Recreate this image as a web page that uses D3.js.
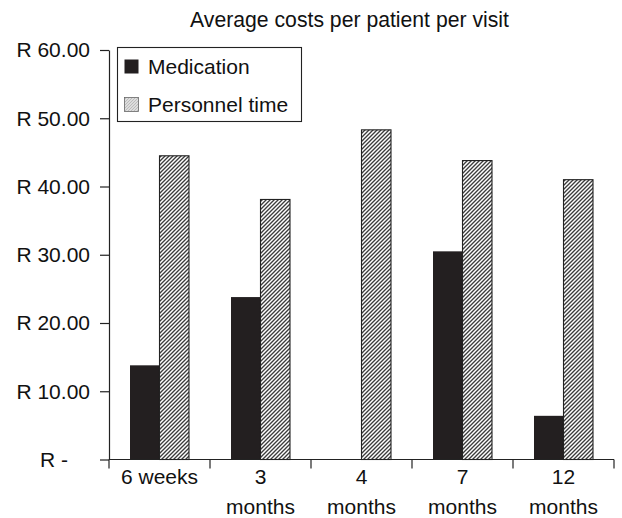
<!DOCTYPE html>
<html>
<head>
<meta charset="utf-8">
<script src="https://cdn.jsdelivr.net/npm/d3@7"></script>
<style>
  html, body { margin: 0; padding: 0; background: #fff; }
  svg { display: block; }
  text { font-family: "Liberation Sans", Arial, Helvetica, sans-serif; fill: #111; }
</style>
</head>
<body>
<svg id="chart" width="622" height="518"></svg>
<script>
// Visit time points and cost per patient (Rand)
const categories = [["6 weeks"], ["3", "months"], ["4", "months"], ["7", "months"], ["12", "months"]];
const seriesNames = ["Medication", "Personnel time"];
const medication = [13.8, 23.8, 0, 30.5, 6.4];
const personnel = [44.5, 38.1, 48.3, 43.8, 41.0];
const yTicks = [0, 10, 20, 30, 40, 50, 60];
const title = "Average costs per patient per visit";

const svg = d3.select("#chart");
const margin = { left: 109, right: 8, top: 50, bottom: 58.5 };
const W = 622, H = 518;

const defs = svg.append("defs");
function hatch(id, step, color, sw) {
  const p = defs.append("pattern")
    .attr("id", id)
    .attr("patternUnits", "userSpaceOnUse")
    .attr("width", step).attr("height", step);
  p.append("rect").attr("width", step).attr("height", step).attr("fill", "#fff");
  p.append("path")
    .attr("d", `M${-step/2},${step/2} L${step/2},${-step/2} M0,${step} L${step},0 M${step/2},${step*1.5} L${step*1.5},${step/2}`)
    .attr("stroke", color).attr("stroke-width", sw);
}
hatch("stripes", 4, "#3c3c3c", 1.35);
hatch("stripesSmall", 3, "#777", 1);

const idx = d3.range(categories.length);
const x0 = d3.scaleBand().domain(idx).range([margin.left, W - margin.right]).padding(0);
const x1 = d3.scaleBand().domain(seriesNames).range([0, x0.bandwidth()]).paddingInner(0).paddingOuter(0.712);
const xb = d3.scaleLinear().domain([0, categories.length]).range([margin.left, W - margin.right]);
const y = d3.scaleLinear().domain([0, 60]).range([H - margin.bottom, margin.top]);

// Title
svg.append("text")
  .attr("x", 349.5).attr("y", 26.5)
  .attr("text-anchor", "middle")
  .style("font-size", "21.2px")
  .text(title);

// Bars
const values = { "Medication": medication, "Personnel time": personnel };
const fills = { "Medication": "#231f20", "Personnel time": "url(#stripes)" };
const strokes = { "Medication": "none", "Personnel time": "#222" };

const groups = svg.append("g").selectAll("g")
  .data(idx).join("g")
  .attr("transform", i => `translate(${x0(i)},0)`);

groups.selectAll("rect")
  .data(i => seriesNames.map(s => ({ s, v: values[s][i] })).filter(d => d.v > 0))
  .join("rect")
  .attr("x", d => x1(d.s))
  .attr("width", x1.bandwidth())
  .attr("y", d => y(d.v))
  .attr("height", d => y(0) - y(d.v))
  .attr("fill", d => fills[d.s])
  .attr("stroke", d => strokes[d.s])
  .attr("stroke-width", 1.1);

// Y axis
const yAxis = svg.append("g")
  .attr("transform", `translate(${margin.left},0)`)
  .call(d3.axisLeft(y)
    .tickValues(yTicks)
    .tickSize(9)
    .tickSizeOuter(0)
    .tickPadding(10)
    .tickFormat(d => d === 0 ? "R -" : "R " + d3.format(".2f")(d)));
yAxis.select(".domain").attr("stroke", "#222").attr("stroke-width", 1.2);
yAxis.selectAll(".tick line").attr("stroke", "#222").attr("stroke-width", 1.2);
yAxis.selectAll(".tick text")
  .style("font-size", "21px")
  .attr("fill", "#111")
  .attr("dy", "0.33em");
yAxis.selectAll(".tick text").filter(d => d === 0).attr("x", -41);

// X axis: baseline with ticks at category boundaries
const xAxis = svg.append("g");
xAxis.append("line")
  .attr("x1", xb(0)).attr("x2", xb(categories.length))
  .attr("y1", y(0)).attr("y2", y(0))
  .attr("stroke", "#222").attr("stroke-width", 1.2);
xAxis.selectAll(".bt")
  .data(d3.range(categories.length + 1)).join("line")
  .attr("class", "bt")
  .attr("x1", d => xb(d)).attr("x2", d => xb(d))
  .attr("y1", y(0)).attr("y2", y(0) + 9)
  .attr("stroke", "#222").attr("stroke-width", 1.2);
const lbl = xAxis.selectAll(".xl")
  .data(idx).join("text")
  .attr("class", "xl")
  .attr("text-anchor", "middle")
  .style("font-size", "21px")
  .attr("transform", i => `translate(${x0(i) + x0.bandwidth() / 2},0)`);
lbl.selectAll("tspan")
  .data(i => categories[i]).join("tspan")
  .attr("x", 0)
  .attr("y", (d, j) => 484 + j * 29.5)
  .text(d => d);

// Legend
const lg = svg.append("g").attr("transform", "translate(117.5,47.5)");
lg.append("rect").attr("width", 184).attr("height", 74)
  .attr("fill", "#fff").attr("stroke", "#222").attr("stroke-width", 1.1);
const items = lg.selectAll("g.item")
  .data(seriesNames).join("g")
  .attr("class", "item")
  .attr("transform", (d, i) => `translate(0,${i * 38})`);
items.append("rect")
  .attr("x", 7).attr("y", 12).attr("width", 14).attr("height", 14)
  .attr("fill", d => d === "Medication" ? "#231f20" : "url(#stripesSmall)")
  .attr("stroke", d => d === "Medication" ? "none" : "#666")
  .attr("stroke-width", 0.8);
items.append("text")
  .attr("x", 30.5).attr("y", 26.5)
  .style("font-size", "21px")
  .text(d => d);
</script>
</body>
</html>
